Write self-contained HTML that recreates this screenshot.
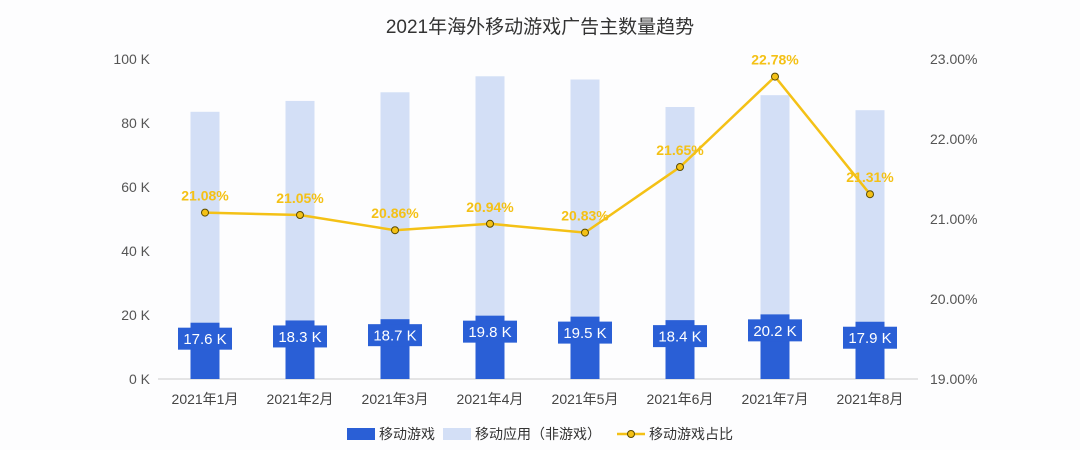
<!DOCTYPE html>
<html><head><meta charset="utf-8"><style>
body{margin:0;background:#fff;font-family:"Liberation Sans","Noto Sans CJK SC",sans-serif;}
svg text{font-family:"Liberation Sans","Noto Sans CJK SC",sans-serif;}
</style></head><body>
<svg id="c" width="1080" height="450" viewBox="0 0 1080 450">
<rect width="1080" height="450" fill="#fdfdfe"/>
<text x="540" y="33" text-anchor="middle" font-size="19" fill="#333">2021年海外移动游戏广告主数量趋势</text>
<g id="g"></g>
<g>
<rect x="347" y="428" width="28" height="12" fill="#2a5fd6"/>
<text x="379" y="439" font-size="14" fill="#333">移动游戏</text>
<rect x="443" y="428" width="28" height="12" fill="#d3dff6"/>
<text x="475" y="439" font-size="14" fill="#333">移动应用（非游戏）</text>
<line x1="617" y1="434" x2="645" y2="434" stroke="#f4c116" stroke-width="2.5"/>
<circle cx="631" cy="434" r="3.5" fill="#f4c116" stroke="#5a4a00" stroke-width="1"/>
<text x="649" y="439" font-size="14" fill="#333">移动游戏占比</text>
</g>
</svg>
<script>
const categories=["2021年1月","2021年2月","2021年3月","2021年4月","2021年5月","2021年6月","2021年7月","2021年8月"];
const gameValues=[17.6,18.3,18.7,19.8,19.5,18.4,20.2,17.9];
const nonGameValues=[65.9,68.6,70.9,74.8,74.1,66.6,68.5,66.1];
const ratioValues=[21.08,21.05,20.86,20.94,20.83,21.65,22.78,21.31];
const leftTicks=[0,20,40,60,80,100];
const rightTicks=[19,20,21,22,23];
const NS="http://www.w3.org/2000/svg";
const g=document.getElementById('g');
const x0=205,step=95,yB=379,yT=59;
const xs=i=>x0+i*step;
const yL=v=>yB-(v/100)*(yB-yT);
const yR=v=>yB-((v-19)/4)*(yB-yT);
function mk(t,a,txt){const e=document.createElementNS(NS,t);for(const k in a)e.setAttribute(k,a[k]);if(txt!==undefined)e.textContent=txt;g.appendChild(e);return e;}
leftTicks.forEach(v=>{const e=mk('text',{x:150,y:yL(v)+5,'text-anchor':'end','font-size':14,fill:'#555'},v+' K');

});
rightTicks.forEach(v=>{const e=mk('text',{x:930,y:yR(v)+5,'font-size':14,fill:'#555'},v.toFixed(2)+'%');

});
const ax=mk('line',{x1:158,y1:yB,x2:918,y2:yB,stroke:'#ccc','stroke-width':1});


categories.forEach((c,i)=>{const x=xs(i);
const tot=gameValues[i]+nonGameValues[i];
const b2=mk('rect',{x:x-14.5,y:yL(tot),width:29,height:yL(gameValues[i])-yL(tot),fill:'#d3dff6'});


const b1=mk('rect',{x:x-14.5,y:yL(gameValues[i]),width:29,height:yB-yL(gameValues[i]),fill:'#2a5fd6'});


const top=yL(gameValues[i]);
const bx=mk('rect',{x:x-27,y:top+5,width:54,height:22,fill:'#2a5fd6'});


const lt=mk('text',{x:x,y:top+21.5,'text-anchor':'middle','font-size':15,fill:'#fff'},gameValues[i]+' K');


const xt=mk('text',{x:x,y:404,'text-anchor':'middle','font-size':14,fill:'#444'},c);


});
const pl=mk('polyline',{points:ratioValues.map((v,i)=>xs(i)+','+yR(v)).join(' '),fill:'none',stroke:'#f4c116','stroke-width':2.5});


ratioValues.forEach((v,i)=>{
const p=mk('circle',{cx:xs(i),cy:yR(v),r:3.5,fill:'#f4c116',stroke:'#5a4a00','stroke-width':1});


const t=mk('text',{x:xs(i),y:yR(v)-12,'text-anchor':'middle','font-size':14,'font-weight':'bold',fill:'#f4c116'},v.toFixed(2)+'%');


});
</script>
</body></html>
